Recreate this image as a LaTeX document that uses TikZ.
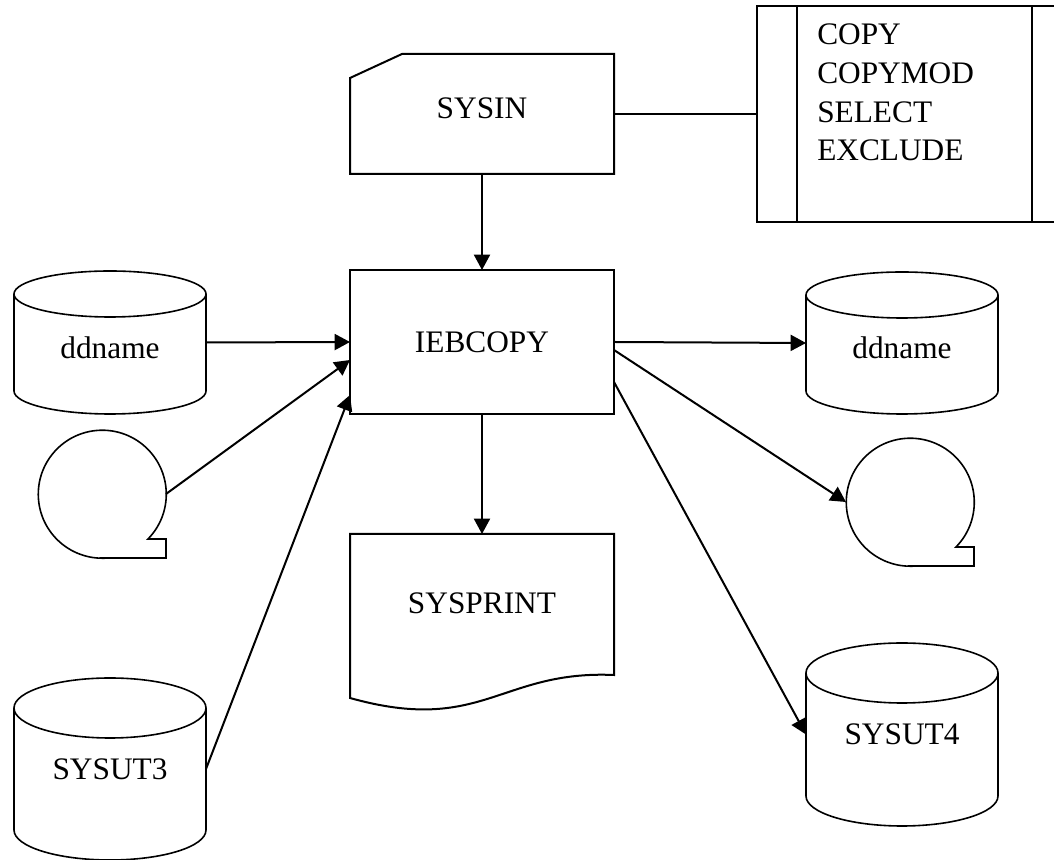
\documentclass[tikz,border=0pt]{standalone}
\usepackage{fontspec}
\setmainfont{Liberation Serif}
\usetikzlibrary{arrows.meta}

\tikzset{
  boxline/.style={line width=1.5pt, line join=miter},
  thinline/.style={line width=1.2pt, line join=miter},
  plain/.style={line width=1.4pt},
  flow/.style={line width=1.5pt, -{Triangle[length=11.5pt,width=12pt]}},
  txt/.style={font=\fontsize{23.5}{29}\selectfont, inner sep=0pt},
  area/.style={inner sep=0pt, outer sep=0pt},
}

% disk (cylinder): name, left x, right x, top y, bottom y, ellipse half-height
\newcommand\drum[6]{%
  \pgfmathsetmacro\dcx{(#2+#3)/2}%
  \pgfmathsetmacro\dcy{(#4+#5)/2}%
  \pgfmathsetmacro\dha{(#3-#2)/2}%
  \pgfmathsetmacro\dyt{#4-#6}%
  \pgfmathsetmacro\dyb{#5+#6}%
  \node[area, minimum width={(#3-#2)*0.75pt}, minimum height={(#4-#5)*0.75pt}] (#1) at (\dcx,\dcy) {};
  \draw[thinline] (#2,\dyt) -- (#2,\dyb)
    arc[start angle=180, end angle=360, x radius=\dha, y radius=#6] -- (#3,\dyt);
  \draw[thinline] (\dcx,\dyt) ellipse[x radius=\dha, y radius=#6];
}

% magnetic tape reel: name, centre x, centre y, radius
\newcommand\reel[4]{%
  \node[area, circle, minimum size={2*#4*0.75pt}] (#1) at (#2,#3) {};
  \draw[thinline] (#2,#3-#4) -- ++(#4,0) -- ++(0,19) -- ++(-18,0)
    arc[start angle=-44.4, end angle=270, radius=#4] -- cycle;
}

\begin{document}
\begin{tikzpicture}[x=0.75pt, y=0.75pt]
\useasboundingbox (0,0) rectangle (1054,860);
\clip (0,0) rectangle (1054,860);

% central program
\node[draw, boxline, area, txt, minimum width=198pt, minimum height=108pt] (ieb) at (482,518) {IEBCOPY};

% SYSIN punched card
\node[area, minimum width=198pt, minimum height=90pt] (sysin) at (482,746) {};
\draw[boxline] ([xshift=39pt]sysin.north west) -- (sysin.north east) -- (sysin.south east)
  -- (sysin.south west) -- ([yshift=-18pt]sysin.north west) -- cycle;
\node[txt, anchor=base] (sysin-text) at (482,741) {SYSIN};

% control statements (predefined process box)
\node[area, anchor=south west, minimum width={(1070-757)*0.75pt}, minimum height={216*0.75pt}] (stmts) at (757,638) {};
\draw[boxline] (stmts.south west) rectangle (stmts.north east);
\draw[boxline] (797,638) -- (797,854);
\draw[boxline] (1032,638) -- (1032,854);
% the base anchor of a multi-line node sits on its last line
\node[txt, anchor=base west, align=left] (stmts-text) at (817,699) {COPY\\COPYMOD\\SELECT\\EXCLUDE};
\draw[plain] (sysin.east) -- (sysin.east -| stmts.west);

% SYSPRINT document
\node[area, minimum width=198pt, minimum height=130.5pt] (sysprint) at (482,239) {};
\draw[boxline] (350,326) -- (614,326) -- (614,185)
  .. controls (500,190) and (482,125) .. (350,162) -- cycle;
\node[txt, anchor=base] (sysprint-text) at (482,246) {SYSPRINT};

% inputs
\drum{dd1}{14}{206}{589}{446}{23}
\node[txt, anchor=base] (dd1-text) at (110,501) {ddname};
\reel{tape1}{102}{366}{64}
\drum{drum3}{14}{206}{182}{0}{30}
\node[txt, anchor=base] (drum3-text) at (110,80) {SYSUT3};

% outputs
\drum{dd2}{806}{998}{588}{446}{23}
\node[txt, anchor=base] (dd2-text) at (902,501) {ddname};
\reel{tape2}{910}{358}{64}
\drum{drum4}{806}{998}{217}{34}{30}
\node[txt, anchor=base] (drum4-text) at (902,115) {SYSUT4};

% connector end points on the program box
\coordinate (ieb-in2) at (ieb.west |- 0,500);
\coordinate (ieb-in3) at (ieb.west |- 0,465);
\coordinate (ieb-out2) at (ieb.east |- 0,510);
\coordinate (ieb-out3) at (ieb.east |- 0,478);

% flows
\draw[flow] (sysin.south) -- (ieb.north);
\draw[flow] (ieb.south) -- (sysprint.north);
\draw[flow] (dd1.east) -- (ieb.west);
\draw[flow] (tape1.east) -- (ieb-in2);
\draw[flow] (drum3.east) -- (ieb-in3);
\draw[flow] (ieb.east) -- (dd2.west);
\draw[flow] (ieb-out2) -- (tape2.west);
\draw[flow] (ieb-out3) -- (drum4.west);
\end{tikzpicture}
\end{document}
